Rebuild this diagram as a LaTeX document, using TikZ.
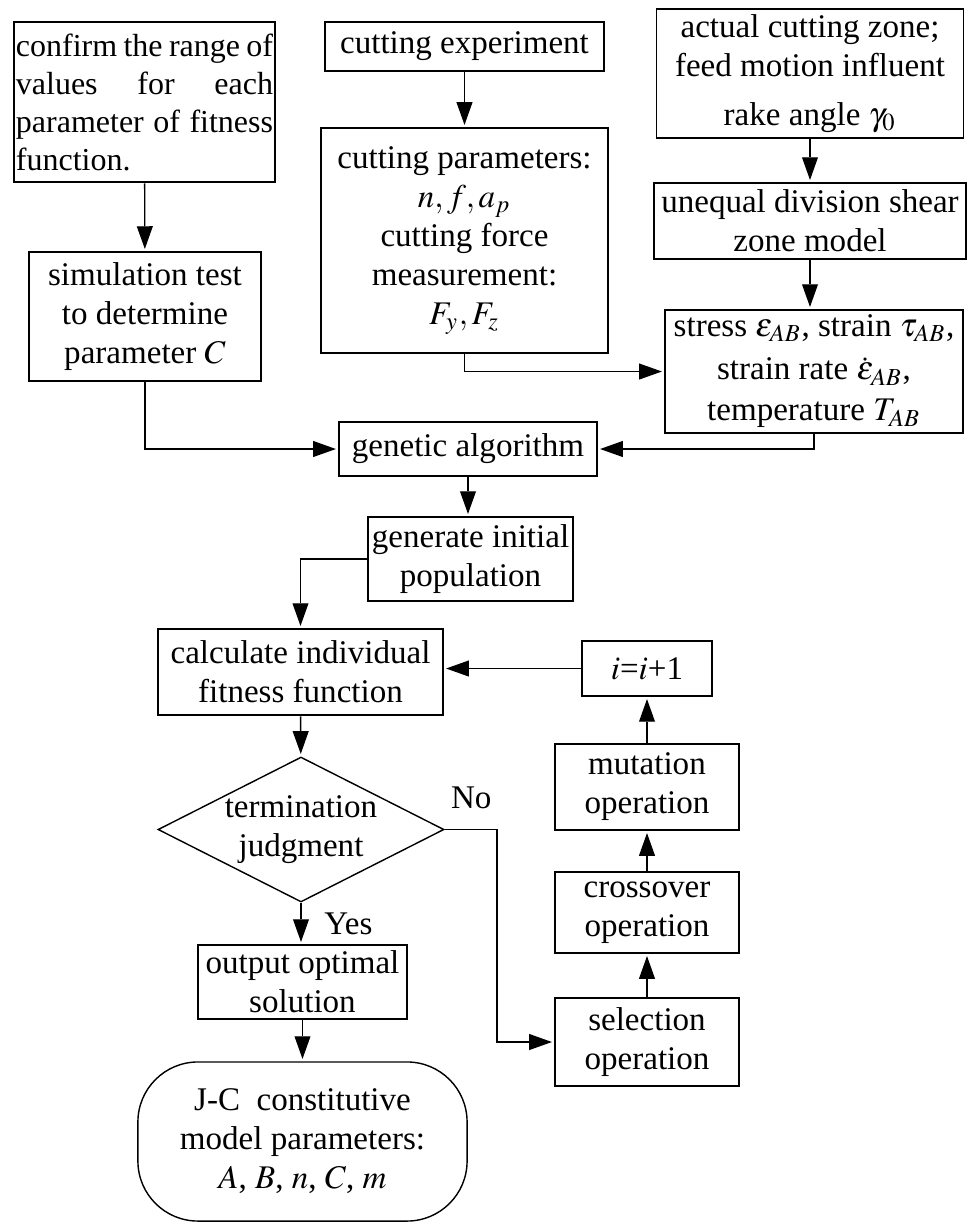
\documentclass[tikz,border=0pt]{standalone}
\usepackage{mathptmx}
\usepackage{fontspec}
\setmainfont{Liberation Serif}
\usetikzlibrary{arrows.meta}
\usetikzlibrary{shapes.geometric}

\newcommand\flowfont{\fontsize{9.4}{11.1}\selectfont}

\begin{document}
\begin{tikzpicture}[x=0.01cm,y=-0.01cm]
  \tikzset{
    ->,
    >={Triangle[length=0.25cm,width=0.17cm]},
    line width=0.025cm,
    every node/.style={font=\flowfont},
    block/.style={draw, rectangle, align=center, inner sep=0.03cm},
    judge/.style={draw, diamond, aspect=1.97, inner sep=0pt, align=center},
    terminal/.style={draw, rectangle, rounded corners=0.6cm, align=center},
    tag/.style={inner sep=0pt},
  }
  \useasboundingbox (0,0) rectangle (968,1223);

  % left column: parameter ranges
  \node[block, text width=2.57cm, align=justify, inner xsep=0.02cm, minimum height=1.60cm,
        font=\fontsize{9.1}{10.8}\selectfont] (range) at (144.5,102)
    {confirm the range of\linebreak values for each\linebreak parameter of fitness\linebreak function.};
  \node[block, minimum width=2.32cm, minimum height=1.29cm] (simtest) at (145,316.5)
    {simulation test\\ to determine\\ parameter $C$};

  % middle column: experiment
  \node[block, minimum width=2.79cm, minimum height=0.49cm] (exp) at (464.5,46.5) {cutting experiment};
  \node[block, minimum width=2.87cm, minimum height=2.25cm] (params) at (464.5,240.5)
    {cutting parameters:\\ $n, f, a_p$\\ cutting force\\ measurement:\\ $F_y, F_z$};

  % right column: shear zone model
  \node[block, minimum width=3.07cm, minimum height=1.29cm] (zone) at (810,73.5)
    {actual cutting zone;\\ feed motion influent\\[0.1cm] rake angle $\gamma_0$};
  \node[block, minimum width=3.12cm, minimum height=0.76cm] (shear) at (810,221)
    {unequal division shear\\ zone model};
  \node[block, minimum width=2.98cm, minimum height=1.23cm] (state) at (814,371.5)
    {stress $\varepsilon_{AB}$, strain $\tau_{AB}$,\\[0.04cm] strain rate $\dot{\varepsilon}_{AB}$,\\[0.02cm] temperature $T_{AB}$};

  % genetic algorithm loop
  \node[block, minimum width=2.58cm, minimum height=0.54cm] (ga) at (468,449) {genetic algorithm};
  \node[block, minimum width=2.05cm, minimum height=0.84cm] (init) at (470.5,559)
    {generate initial\\ population};
  \node[block, minimum width=2.85cm, minimum height=0.86cm] (fitness) at (300.5,672)
    {calculate individual\\ fitness function};
  \node[judge, minimum width=2.74cm, minimum height=1.39cm] (judge) at (301,829.5)
    {termination\\ judgment};
  \node[block, minimum width=2.09cm, minimum height=0.74cm] (optimal) at (302.5,982)
    {output optimal\\ solution};
  \node[terminal, minimum width=3.29cm, minimum height=1.59cm] (jc) at (302.5,1141.5)
    {J-C\ \ constitutive\\ model parameters:\\ $A$, $B$, $n$, $C$, $m$};

  \node[block, minimum width=1.30cm, minimum height=0.55cm] (incr) at (647,668.5) {$i$=$i$+1};
  \node[block, minimum width=1.84cm, minimum height=0.86cm] (mutate) at (647,787) {mutation\\ operation};
  \node[block, minimum width=1.84cm, minimum height=0.81cm] (cross) at (647,912.5) {crossover\\ operation};
  \node[block, minimum width=1.84cm, minimum height=0.88cm] (select) at (647,1042) {selection\\ operation};

  \coordinate (noturn) at (497,829.5);

  \draw (range) -- (simtest);
  \draw (simtest.south) |- (ga.west);
  \draw (exp) -- (params);
  \draw (params.south) |- (state.west);
  \draw (zone) -- (shear);
  \draw (shear.south) -- (shear.south |- state.north);
  \draw (state.south) |- (ga.east);
  \draw (ga.south) -- (ga.south |- init.north);
  \draw (init.west) -| (fitness.north);
  \draw (fitness) -- (judge);
  \draw (judge.south) -- node[tag, right=0.22cm] {Yes} (judge.south |- optimal.north);
  \draw (optimal) -- (jc);
  \draw (judge.east) -- node[tag, above=0.19cm] {No} (noturn) |- (select.west);
  \draw (select) -- (cross);
  \draw (cross) -- (mutate);
  \draw (mutate) -- (incr);
  \draw (incr.west) -- (incr.west -| fitness.east);
\end{tikzpicture}
\end{document}
